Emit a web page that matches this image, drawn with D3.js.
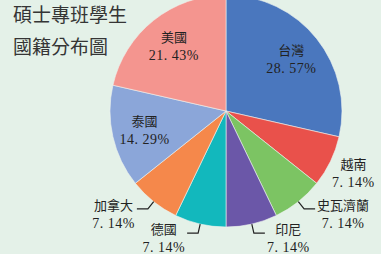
<!DOCTYPE html>
<html lang="zh-Hant">
<head>
<meta charset="utf-8" />
<title>碩士專班學生國籍分布圖</title>
<script src="https://cdn.jsdelivr.net/npm/d3@7"></script>
<style>
  body { margin: 0; background: #e4f1e8; }
  svg { display: block; }
  .title { font-family: "Noto Sans CJK TC", "Noto Sans"; font-size: 19px; fill: #353535; }
  .lbl { font-family: "Liberation Serif", "Noto Sans CJK TC"; font-size: 13px; fill: #222; }
  .pct { font-family: "Liberation Serif"; font-size: 14px; fill: #222; letter-spacing: 0.5px; }
</style>
</head>
<body>
<div id="chart"></div>
<script>
var width = 381, height = 254;

// data
var countries = ["台灣", "越南", "史瓦濟蘭", "印尼", "德國", "加拿大", "泰國", "美國"];
var counts    = [4, 1, 1, 1, 1, 1, 2, 3];
var percents  = ["28.57%", "7.14%", "7.14%", "7.14%", "7.14%", "7.14%", "14.29%", "21.43%"];
var colors    = ["#4a77be", "#e9514b", "#7cc463", "#6b57a8", "#12b8bd", "#f5884b", "#8ba6d9", "#f4958f"];
var inside    = [true, false, false, false, false, false, true, true];
var titleLines = ["碩士專班學生", "國籍分布圖"];

var cx = 226, cy = 111, r = 116;

var svg = d3.select("#chart").append("svg")
    .attr("width", width)
    .attr("height", height);

svg.append("rect").attr("width", width).attr("height", height).attr("fill", "#e4f1e8");

var rows = countries.map(function(c, i) {
  return { name: c, value: counts[i], pct: percents[i], color: colors[i], inside: inside[i] };
});

var pie = d3.pie().sort(null).value(function(d) { return d.value; });
var arcs = pie(rows);
var arc = d3.arc().innerRadius(0).outerRadius(r);

var g = svg.append("g").attr("transform", "translate(" + cx + "," + cy + ")");

g.selectAll("path.slice")
  .data(arcs)
  .enter().append("path")
    .attr("class", "slice")
    .attr("d", arc)
    .attr("fill", function(d) { return d.data.color; })
    .attr("stroke", "#eef3f0")
    .attr("stroke-width", 0.6);

function polar(a, rad) { return [Math.sin(a) * rad, -Math.cos(a) * rad]; }
function mid(d) { return (d.startAngle + d.endAngle) / 2; }

// labels inside the big slices
arcs.filter(function(d) { return d.data.inside; }).forEach(function(d) {
  var p = polar(mid(d), r * 0.72);
  var t = g.append("g").attr("transform", "translate(" + p[0] + "," + p[1] + ")");
  t.append("text").attr("class", "lbl").attr("text-anchor", "middle")
    .attr("y", -4).text(d.data.name);
  t.append("text").attr("class", "pct").attr("text-anchor", "middle")
    .attr("y", 14).text(d.data.pct.replace(".", ". "));
});

// labels outside the small slices
arcs.filter(function(d) { return !d.data.inside; }).forEach(function(d, k) {
  var a = mid(d);
  var right = Math.sin(a) > 0;
  var dir = right ? 1 : -1;
  var cxL, cyL;
  if (k === 0) {
    // 越南: no leader line
    var q = polar(a, r * 1.21);
    cxL = q[0] + 1; cyL = q[1] - 8;
  } else {
    var p0 = polar(a, r), p1 = polar(a, r * 1.08);
    var p2 = [p1[0] + dir * 11, p1[1]];
    g.append("path")
      .attr("d", d3.line()([p0, p1, p2]))
      .attr("fill", "none").attr("stroke", "#222").attr("stroke-width", 1.2);
    cyL = p2[1] - 4;
    cxL = p2[0];
  }
  var t = g.append("g");
  var n = t.append("text").attr("class", "lbl").attr("text-anchor", "middle")
    .attr("y", cyL + 5).text(d.data.name);
  var pc = t.append("text").attr("class", "pct").attr("text-anchor", "middle")
    .attr("y", cyL + 23).text(d.data.pct.replace(".", ". "));
  if (k > 0) {
    var w = Math.max(n.node().getComputedTextLength(), pc.node().getComputedTextLength());
    cxL = cxL + dir * (w / 2 + 2);
  }
  n.attr("x", cxL);
  pc.attr("x", cxL);
});

// title
svg.selectAll("text.title")
  .data(titleLines)
  .enter().append("text")
    .attr("class", "title")
    .attr("x", 13)
    .attr("y", function(d, i) { return 22 + i * 32; })
    .text(function(d) { return d; });
</script>
</body>
</html>
